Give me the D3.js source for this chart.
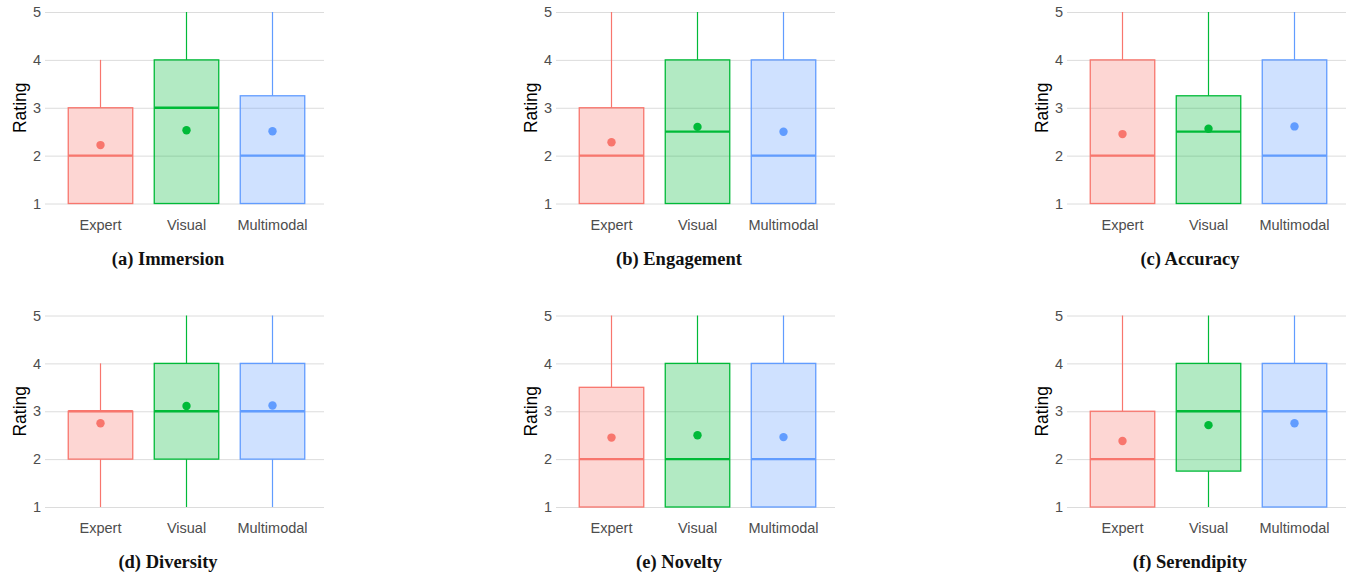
<!DOCTYPE html>
<html>
<head>
<meta charset="utf-8">
<script src="https://cdn.jsdelivr.net/npm/d3@7"></script>
<style>
  body { margin: 0; background: #fff; }
  svg { display: block; }
</style>
</head>
<body>
<script>
// data, one entry per panel (a)-(f), each with Expert / Visual / Multimodal
var groups = ["Expert", "Visual", "Multimodal"];
var panelTitles = ["(a) Immersion", "(b) Engagement", "(c) Accuracy",
                   "(d) Diversity", "(e) Novelty", "(f) Serendipity"];
var ratingTicks = [1, 2, 3, 4, 5];

var whiskerLow = [[1, 1, 1], [1, 1, 1], [1, 1, 1],
                  [1, 1, 1], [1, 1, 1], [1, 1, 1]];
var q1 =         [[1, 1, 1], [1, 1, 1], [1, 1, 1],
                  [2, 2, 2], [1, 1, 1], [1, 1.75, 1]];
var median =     [[2, 3, 2], [2, 2.5, 2], [2, 2.5, 2],
                  [3, 3, 3], [2, 2, 2], [2, 3, 3]];
var q3 =         [[3, 4, 3.25], [3, 4, 4], [4, 3.25, 4],
                  [3, 4, 4], [3.5, 4, 4], [3, 4, 4]];
var whiskerHigh = [[4, 5, 5], [5, 5, 5], [5, 5, 5],
                   [4, 5, 5], [5, 5, 5], [5, 5, 5]];
var means =      [[2.22, 2.53, 2.51], [2.28, 2.6, 2.5], [2.45, 2.56, 2.61],
                  [2.75, 3.11, 3.12], [2.45, 2.5, 2.46], [2.38, 2.71, 2.75]];

var colors = ["#F8766D", "#00BA38", "#619CFF"];

var W = 1351, H = 577;
var svg = d3.select("body").append("svg")
  .attr("width", W)
  .attr("height", H);

var plotW = 279;
var rowTop = [12, 315.5];
var plotH = 191.5;

var drawPanel = function(p) {
  var col = p % 3, row = Math.floor(p / 3);
  var left = 45 + col * 511;
  var top = rowTop[row];

  var g = svg.append("g").attr("transform", "translate(" + left + "," + top + ")");

  var x = d3.scalePoint().domain(groups).range([2, plotW]).padding(0.6).round(true);
  var y = d3.scaleLinear().domain([1, 5]).range([plotH, 0]);
  var boxW = x.step() * 0.75;

  // grid + tick labels
  var yAxis = g.append("g")
    .call(d3.axisLeft(y).tickValues(ratingTicks).tickFormat(d3.format("d"))
      .tickSize(-plotW).tickPadding(4));
  yAxis.select(".domain").remove();
  yAxis.selectAll(".tick line").attr("stroke", "#dcdcdc").attr("stroke-width", 1);
  yAxis.selectAll(".tick text")
    .attr("fill", "#4d4d4d")
    .style("font-family", "Liberation Sans, Arial, sans-serif")
    .style("font-size", "14.5px");

  var xAxis = g.append("g")
    .attr("transform", "translate(0," + plotH + ")")
    .call(d3.axisBottom(x).tickSize(0).tickPadding(16));
  xAxis.select(".domain").remove();
  xAxis.selectAll(".tick text")
    .attr("fill", "#4d4d4d")
    .style("font-family", "Liberation Sans, Arial, sans-serif")
    .style("font-size", "14.5px");

  g.append("text")
    .attr("transform", "translate(-25," + (plotH / 2) + ") rotate(-90)")
    .attr("text-anchor", "middle")
    .attr("dy", "0.35em")
    .style("font-family", "Liberation Sans, Arial, sans-serif")
    .style("font-size", "17.5px")
    .attr("fill", "#000")
    .text("Rating");

  var boxes = g.selectAll(".box")
    .data(groups)
    .enter()
    .append("g")
    .attr("class", "box");

  // whiskers
  boxes.append("line")
    .attr("x1", function(d) { return x(d) + 0.5; })
    .attr("x2", function(d) { return x(d) + 0.5; })
    .attr("y1", function(d, i) { return y(q3[p][i]); })
    .attr("y2", function(d, i) { return y(whiskerHigh[p][i]); })
    .attr("stroke", function(d, i) { return colors[i]; })
    .attr("stroke-width", 1.2);
  boxes.append("line")
    .attr("x1", function(d) { return x(d) + 0.5; })
    .attr("x2", function(d) { return x(d) + 0.5; })
    .attr("y1", function(d, i) { return y(q1[p][i]); })
    .attr("y2", function(d, i) { return y(whiskerLow[p][i]); })
    .attr("stroke", function(d, i) { return colors[i]; })
    .attr("stroke-width", 1.2);

  boxes.append("rect")
    .attr("x", function(d) { return x(d) + 0.5 - boxW / 2; })
    .attr("y", function(d, i) { return y(q3[p][i]); })
    .attr("width", boxW)
    .attr("height", function(d, i) { return y(q1[p][i]) - y(q3[p][i]); })
    .attr("fill", function(d, i) { return colors[i]; })
    .attr("fill-opacity", 0.3)
    .attr("stroke", function(d, i) { return colors[i]; })
    .attr("stroke-width", 1.3);

  boxes.append("line")
    .attr("x1", function(d) { return x(d) + 0.5 - boxW / 2; })
    .attr("x2", function(d) { return x(d) + 0.5 + boxW / 2; })
    .attr("y1", function(d, i) { return y(median[p][i]); })
    .attr("y2", function(d, i) { return y(median[p][i]); })
    .attr("stroke", function(d, i) { return colors[i]; })
    .attr("stroke-width", 2.3);

  boxes.append("circle")
    .attr("cx", function(d) { return x(d) + 0.5; })
    .attr("cy", function(d, i) { return y(means[p][i]); })
    .attr("r", 4.2)
    .attr("fill", function(d, i) { return colors[i]; });

  svg.append("text")
    .attr("x", left + 123)
    .attr("y", top + 252.5)
    .attr("text-anchor", "middle")
    .style("font-family", "Liberation Serif, Times New Roman, serif")
    .style("font-weight", "bold")
    .style("font-size", "18.5px")
    .attr("fill", "#111")
    .text(panelTitles[p]);
};

for (var p = 0; p < panelTitles.length; p++) {
  drawPanel(p);
}
</script>
</body>
</html>
